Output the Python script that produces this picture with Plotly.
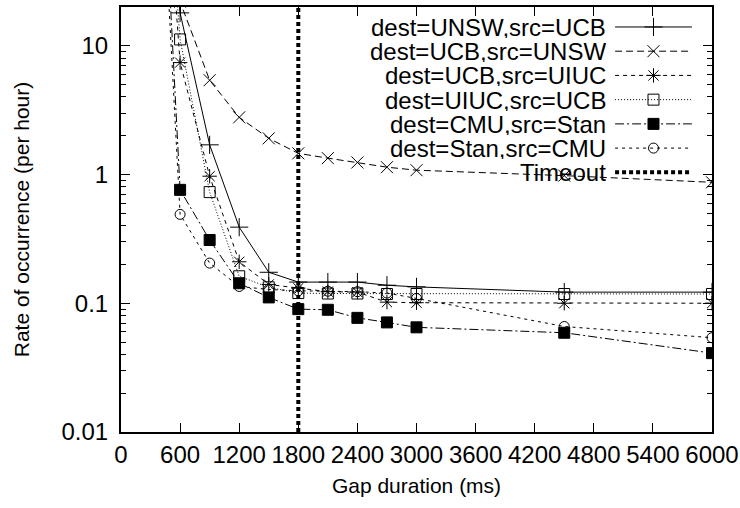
import plotly.graph_objects as go

# ---- data ----
gap_ms = [300, 600, 900, 1200, 1500, 1800, 2100, 2400, 2700, 3000, 4500, 6000]

unsw_ucb = [1e4, 18, 1.7, 0.39, 0.174, 0.146, 0.146, 0.146, 0.138, 0.134, 0.122, 0.122]
ucb_unsw = [1e4, 22, 5.4, 2.78, 1.91, 1.46, 1.34, 1.24, 1.14, 1.08, 0.98, 0.87]
ucb_uiuc = [1e4, 7.4, 0.97, 0.21, 0.14, 0.131, 0.123, 0.122, 0.102, 0.101, 0.1, 0.1]
uiuc_ucb = [1e4, 11.2, 0.73, 0.162, 0.133, 0.12, 0.119, 0.119, 0.118, 0.118, 0.118, 0.118]
cmu_stan = [2e4, 0.76, 0.31, 0.143, 0.111, 0.090, 0.089, 0.077, 0.071, 0.065, 0.059, 0.041]
stan_cmu = [1e4, 0.49, 0.205, 0.135, 0.128, 0.125, 0.124, 0.123, 0.12, 0.109, 0.066, 0.054]

series_names = ["dest=UNSW,src=UCB", "dest=UCB,src=UNSW", "dest=UCB,src=UIUC",
                "dest=UIUC,src=UCB", "dest=CMU,src=Stan", "dest=Stan,src=CMU"]
series_values = [unsw_ucb, ucb_unsw, ucb_uiuc, uiuc_ucb, cmu_stan, stan_cmu]

timeout_ms = 1800
timeout_label = "Timeout"

x_ticks = [0, 600, 1200, 1800, 2400, 3000, 3600, 4200, 4800, 5400, 6000]
y_ticks = [0.01, 0.1, 1, 10]
y_tick_labels = ["0.01", "0.1", "1", "10"]
y_minor = [m * d for d in (0.01, 0.1, 1) for m in range(2, 10)] + [20]
y_range = [0.01, 20]

# ---- styles ----
styles = [
    dict(dash="solid", symbol="cross-thin-open", size=13),
    dict(dash="7px,4px", symbol="x-thin-open", size=12),
    dict(dash="4px,4px", symbol="asterisk-open", size=12),
    dict(dash="1px,2px", symbol="square-open", size=11),
    dict(dash="9px,3px,2px,3px", symbol="square", size=11),
    dict(dash="3px,4px", symbol="circle-open", size=10),
]

FONT = "Liberation Sans, Arial, sans-serif"
FS_TICK = 24
FS_LEG = 24
FS_TITLE = 21
fig = go.Figure()

for name, vals, st in zip(series_names, series_values, styles):
    fig.add_trace(go.Scatter(
        x=gap_ms, y=vals, mode="lines+markers", name=name, showlegend=False,
        line=dict(color="black", width=1, dash=st["dash"]),
        marker=dict(symbol=st["symbol"], size=st["size"], color="black",
                    line=dict(color="black", width=1)),
    ))

fig.add_trace(go.Scatter(
    x=[timeout_ms, timeout_ms], y=y_range, mode="lines", name=timeout_label,
    showlegend=False, line=dict(color="black", width=4, dash="4px,3px"),
))

# ---- custom gnuplot-style legend (text right, sample to its right) ----
labels = series_names + [timeout_label]
leg_styles = styles + [None]
row0, drow = 0.953, 0.057
for i, (lab, st) in enumerate(zip(labels, leg_styles)):
    yy = row0 - i * drow
    fig.add_annotation(x=0.822, y=yy, xref="x2", yref="y2", text=lab,
                       showarrow=False, xanchor="right", yanchor="middle",
                       height=22, borderpad=0,
                       font=dict(family=FONT, size=FS_LEG, color="black"))
    if st is None:
        fig.add_trace(go.Scatter(x=[0.836, 0.966], y=[yy, yy], xaxis="x2", yaxis="y2",
                                 mode="lines", showlegend=False, hoverinfo="skip",
                                 line=dict(color="black", width=4, dash="4px,3px")))
    else:
        fig.add_trace(go.Scatter(x=[0.836, 0.966], y=[yy, yy], xaxis="x2", yaxis="y2",
                                 mode="lines", showlegend=False, hoverinfo="skip",
                                 line=dict(color="black", width=1, dash=st["dash"])))
        fig.add_trace(go.Scatter(x=[0.901], y=[yy], xaxis="x2", yaxis="y2",
                                 mode="markers", showlegend=False, hoverinfo="skip",
                                 marker=dict(symbol=st["symbol"], size=st["size"], color="black",
                                             line=dict(color="black", width=1))))

fig.update_layout(
    width=740, height=508,
    margin=dict(l=121, r=28, t=7, b=76),
    paper_bgcolor="white", plot_bgcolor="white",
    font=dict(family=FONT, size=FS_TICK, color="black"),
    xaxis=dict(range=[0, 6000], tickvals=x_ticks, ticks="inside", ticklen=9,
               tickwidth=1, tickcolor="black", showline=True, linewidth=2,
               linecolor="black", mirror="ticks", showgrid=False, zeroline=False,
               automargin=False, ticklabelstandoff=0,
               title=dict(text="Gap duration (ms)", standoff=12, font=dict(size=FS_TITLE)),
               tickfont=dict(size=FS_TICK)),
    yaxis=dict(type="log", range=[-2, 1.30103], tickvals=y_ticks, ticktext=y_tick_labels,
               ticks="inside", ticklen=9, tickwidth=1, tickcolor="black",
               showline=True, linewidth=2, linecolor="black", mirror="ticks",
               showgrid=False, zeroline=False, ticklabelstandoff=6, automargin=False,
               minor=dict(ticks="inside", ticklen=5, tickcolor="black", tickwidth=1,
                          tickvals=y_minor, showgrid=False),
               title=dict(text="Rate of occurrence (per hour)", standoff=26,
                          font=dict(size=FS_TITLE)),
               tickfont=dict(size=FS_TICK)),
    xaxis2=dict(overlaying="x", range=[0, 1], visible=False),
    yaxis2=dict(overlaying="y", range=[0, 1], visible=False),
)

fig.write_html("out.html")
